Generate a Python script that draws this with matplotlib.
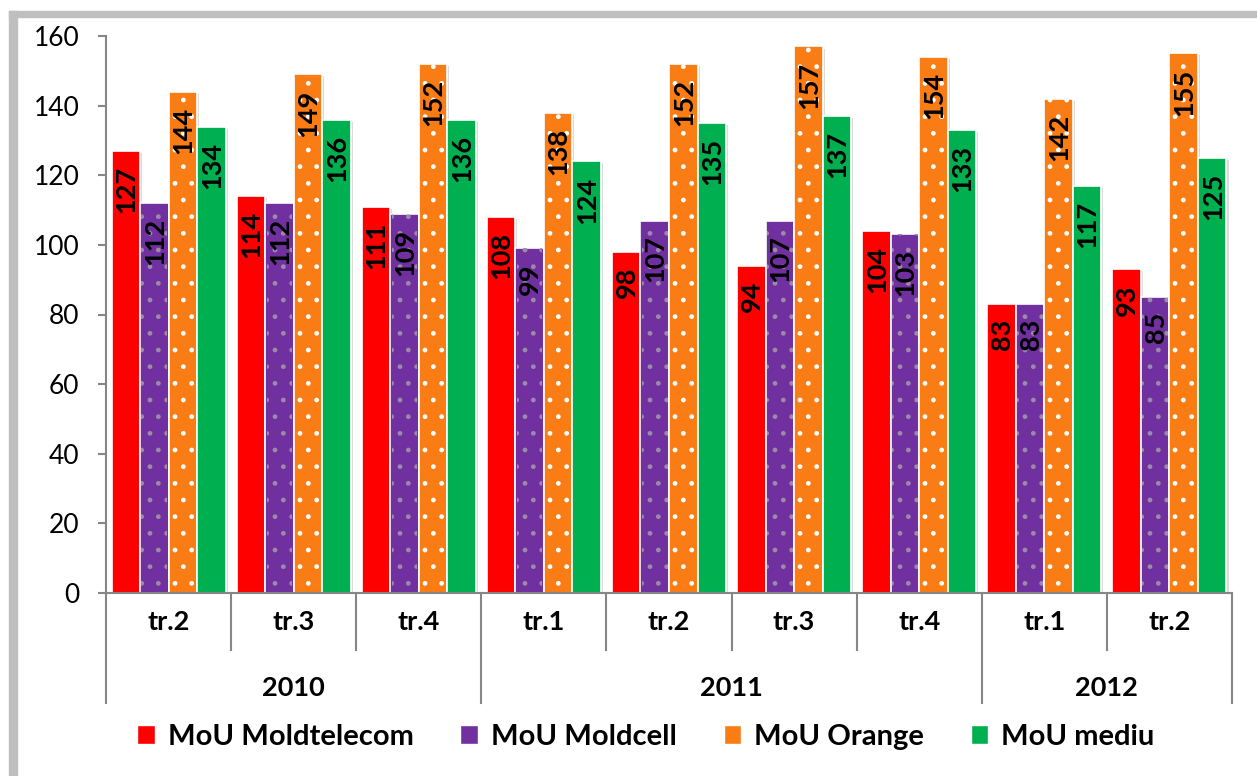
import matplotlib
matplotlib.use('Agg')
import matplotlib.pyplot as plt
import matplotlib.patheffects as pe
import matplotlib.transforms as mtransforms
from matplotlib.patches import Rectangle, Patch
import numpy as np

# data
quarters = ['tr.2', 'tr.3', 'tr.4', 'tr.1', 'tr.2', 'tr.3', 'tr.4', 'tr.1', 'tr.2']
years = ['2010', '2011', '2012']
year_sizes = [3, 4, 2]
moldtelecom = [127, 114, 111, 108, 98, 94, 104, 83, 93]
moldcell = [112, 112, 109, 99, 107, 107, 103, 83, 85]
orange = [144, 149, 152, 138, 152, 157, 154, 142, 155]
mediu = [134, 136, 136, 124, 135, 137, 133, 117, 125]
series_names = ['MoU Moldtelecom', 'MoU Moldcell', 'MoU Orange', 'MoU mediu']
y_ticks = [0, 20, 40, 60, 80, 100, 120, 140, 160]

colors = ['#ff0000', '#7030a0', '#f97c14', '#00b050']
dot_colors = [None, '#9c8aa8', '#ffffff', None]

plt.rcParams['font.family'] = ['Lato', 'DejaVu Sans']
plt.rcParams['hatch.linewidth'] = 1.0

W, H = 1257, 776
fig = plt.figure(figsize=(W / 100, H / 100), dpi=100)
ax = fig.add_axes([106 / W, 1 - 593 / H, (1232 - 106) / W, (593 - 36) / H])

# gray frame around the chart (left and top visible)
fig.add_artist(Rectangle((9 / W, 0), 8 / W, (H - 11) / H, transform=fig.transFigure,
                         color='#bfbfbf', zorder=0))
fig.add_artist(Rectangle((9 / W, (H - 17) / H), 1 - 9 / W, 6 / H, transform=fig.transFigure,
                         color='#bfbfbf', zorder=0))

series = [moldtelecom, moldcell, orange, mediu]
n = len(quarters)
x = np.arange(n) + 0.5
bw = 0.228

shadow = [pe.SimplePatchShadow(offset=(1.5, -1.5), shadow_rgbFace='#999999', alpha=0.35), pe.Normal()]

for i, vals in enumerate(series):
    xs = x + (i - 1.5) * bw
    ax.bar(xs, vals, bw, color=colors[i], edgecolor='white', linewidth=1.2,
           path_effects=shadow, zorder=2)
    if dot_colors[i]:
        ax.bar(xs, vals, bw * 0.9, facecolor='none', edgecolor=dot_colors[i],
               linewidth=0, hatch='.', zorder=3)
    for xi, v in zip(xs, vals):
        ax.text(xi + 0.005, v - 4.3, str(v), rotation=90, ha='center', va='top',
                fontsize=19.5, fontweight='bold', color='black', zorder=4)

ax.set_xlim(0, n)
ax.set_ylim(0, 160)
ax.set_yticks(y_ticks)
ax.tick_params(axis='y', labelsize=19, length=6, width=1.5, color='#868686', pad=13)
ax.set_xticks([])
for s in ['top', 'right']:
    ax.spines[s].set_visible(False)
for s in ['left', 'bottom']:
    ax.spines[s].set_color('#868686')
    ax.spines[s].set_linewidth(1.5)

# multi-level category axis
trans = mtransforms.blended_transform_factory(ax.transData, ax.transAxes)
ah = 593 - 36
q_low = -(650 - 593) / ah
y_low = -(703 - 593) / ah
year_edges = np.concatenate([[0], np.cumsum(year_sizes)])
for b in range(n + 1):
    bottom = y_low if b in year_edges else q_low
    ax.plot([b, b], [0, bottom], transform=trans, color='#868686', lw=1.5, clip_on=False)
for xi, q in zip(x, quarters):
    ax.text(xi, -(622 - 593) / ah, q, transform=trans, ha='center', va='center',
            fontsize=19.5, fontweight='bold')
for k, yr in enumerate(years):
    xc = (year_edges[k] + year_edges[k + 1]) / 2
    ax.text(xc, -(688 - 593) / ah, yr, transform=trans, ha='center', va='center',
            fontsize=19.5, fontweight='bold')

handles = []
for i in range(4):
    handles.append(Patch(facecolor=colors[i], edgecolor='white', label=series_names[i]))
fig.legend(handles=handles, loc='center', bbox_to_anchor=(646 / W, 1 - 737 / H), ncol=4,
           frameon=False, prop={'size': 21, 'weight': 'bold'}, handlelength=0.6,
           handleheight=0.6, handletextpad=0.45, columnspacing=1.6)

fig.savefig('out.png', dpi=100, facecolor='white')
